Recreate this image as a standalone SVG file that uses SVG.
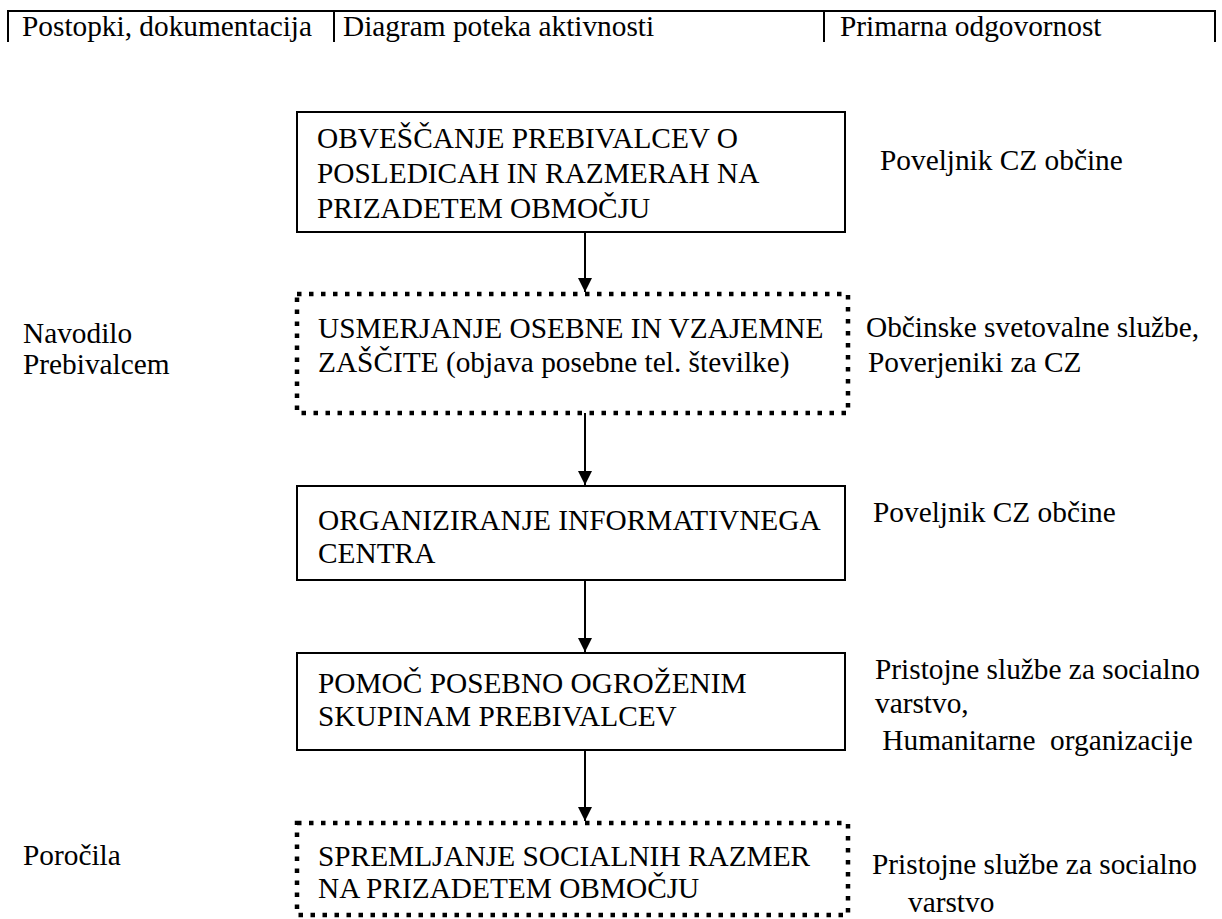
<svg xmlns="http://www.w3.org/2000/svg" width="1222" height="919" viewBox="0 0 1222 919">
<defs>
<style>
text{font-family:'Liberation Serif','Times New Roman',serif;font-size:29.33px;fill:#000;white-space:pre}
.solid{fill:#fff;stroke:#000;stroke-width:2}
.dot{fill:#fff;stroke:#000;stroke-width:4.5;stroke-dasharray:4.5 7.5}
.line{stroke:#000;stroke-width:2;fill:none}
.conn{stroke:#000;stroke-width:2;fill:none;marker-end:url(#ah)}
</style>
<marker id="ah" viewBox="0 0 14 14" refX="14" refY="7" markerWidth="14" markerHeight="14" markerUnits="userSpaceOnUse" orient="auto">
<path d="M0,0 L14,7 L0,14 Z" fill="#000"/>
</marker>
</defs>
<rect width="1222" height="919" fill="#fff"/>
<g id="header">
<line class="line" x1="7" y1="11" x2="1216" y2="11"/>
<line class="line" x1="8" y1="11" x2="8" y2="42"/>
<line class="line" x1="334" y1="11" x2="334" y2="42"/>
<line class="line" x1="824" y1="11" x2="824" y2="42"/>
<line class="line" x1="1215" y1="11" x2="1215" y2="42"/>
<text x="22" y="36">Postopki, dokumentacija</text>
<text x="343" y="36">Diagram poteka aktivnosti</text>
<text x="840" y="36">Primarna odgovornost</text>
</g>
<g id="connectors">
<line class="conn" x1="585" y1="232" x2="585" y2="292"/>
<line class="conn" x1="585" y1="413" x2="585" y2="485"/>
<line class="conn" x1="585" y1="580" x2="585" y2="652"/>
<line class="conn" x1="585" y1="750" x2="585" y2="821"/>
</g>
<g id="node1">
<rect class="solid" x="297" y="112" width="548" height="120"/>
<text x="317" y="148">OBVEŠČANJE PREBIVALCEV O</text>
<text x="317" y="183">POSLEDICAH IN RAZMERAH NA</text>
<text x="317" y="218">PRIZADETEM OBMOČJU</text>
</g>
<g id="node2">
<rect class="dot" x="297" y="294" width="551" height="119"/>
<text x="318" y="338">USMERJANJE OSEBNE IN VZAJEMNE</text>
<text x="318" y="372">ZAŠČITE (objava posebne tel. številke)</text>
</g>
<g id="node3">
<rect class="solid" x="297" y="486" width="548" height="94"/>
<text x="318" y="530">ORGANIZIRANJE INFORMATIVNEGA</text>
<text x="318" y="563">CENTRA</text>
</g>
<g id="node4">
<rect class="solid" x="297" y="653" width="548" height="97"/>
<text x="318" y="693">POMOČ POSEBNO OGROŽENIM</text>
<text x="318" y="726">SKUPINAM PREBIVALCEV</text>
</g>
<g id="node5">
<rect class="dot" x="297" y="823" width="551" height="92"/>
<text x="318" y="866">SPREMLJANJE SOCIALNIH RAZMER</text>
<text x="318" y="898">NA PRIZADETEM OBMOČJU</text>
</g>
<g id="left-labels">
<text x="23" y="343">Navodilo</text>
<text x="23" y="374">Prebivalcem</text>
<text x="23" y="865">Poročila</text>
</g>
<g id="right-labels">
<text x="880" y="170">Poveljnik CZ občine</text>
<text x="866" y="337">Občinske svetovalne službe,</text>
<text x="868" y="372">Poverjeniki za CZ</text>
<text x="873" y="522">Poveljnik CZ občine</text>
<text x="875" y="679">Pristojne službe za socialno</text>
<text x="875" y="713">varstvo,</text>
<text x="875" y="750"> Humanitarne  organizacije</text>
<text x="872" y="874">Pristojne službe za socialno</text>
<text x="908" y="912">varstvo</text>
</g>
</svg>
